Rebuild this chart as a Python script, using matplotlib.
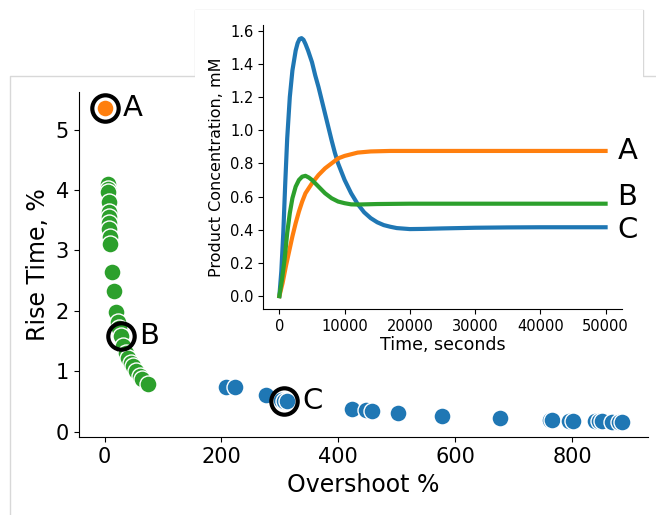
import matplotlib.pyplot as plt
from matplotlib.lines import Line2D

# main scatter: overshoot % vs rise time
a_overshoot = [0]
a_rise = [5.36]

b_overshoot = [5, 6, 6, 7, 7, 8, 8, 8, 9, 10, 13, 16, 20, 23, 25, 28, 32, 36,
               40, 45, 48, 54, 60, 64, 74]
b_rise = [4.10, 4.02, 3.97, 3.80, 3.64, 3.56, 3.45, 3.36, 3.22, 3.10, 2.64,
          2.32, 1.98, 1.82, 1.72, 1.58, 1.42, 1.30, 1.22, 1.13, 1.08, 1.00,
          0.92, 0.87, 0.79]

c_overshoot = [207, 224, 277, 302, 307, 312, 423, 448, 458, 503, 577, 676,
               762, 766, 795, 802, 840, 846, 852, 868, 880, 886]
c_rise = [0.73, 0.73, 0.61, 0.52, 0.51, 0.50, 0.38, 0.35, 0.345, 0.305, 0.26,
          0.22, 0.195, 0.19, 0.18, 0.18, 0.17, 0.17, 0.17, 0.165, 0.165, 0.165]

# highlighted designs
marked_labels = ["A", "B", "C"]
marked_x = [0, 28, 307]
marked_y = [5.36, 1.58, 0.51]

# inset: product concentration over time
time_a = [0, 500, 1000, 1500, 2000, 2500, 3000, 3500, 4000, 5000, 6000, 7000,
          8000, 9000, 10000, 12000, 14000, 17000, 20000, 30000, 40000, 50000]
conc_a = [0, 0.08, 0.18, 0.27, 0.36, 0.44, 0.51, 0.57, 0.62, 0.68, 0.73, 0.77,
          0.80, 0.83, 0.845, 0.865, 0.872, 0.875, 0.875, 0.875, 0.875, 0.875]

time_b = [0, 400, 800, 1200, 1600, 2000, 2500, 3000, 3500, 4000, 4500, 5000,
          6000, 7000, 8000, 9000, 10000, 11000, 12000, 15000, 20000, 30000,
          40000, 50000]
conc_b = [0, 0.10, 0.22, 0.38, 0.50, 0.59, 0.66, 0.70, 0.72, 0.725, 0.715, 0.70,
          0.66, 0.62, 0.59, 0.57, 0.56, 0.553, 0.552, 0.555, 0.557, 0.557,
          0.557, 0.557]

time_c = [0, 300, 600, 900, 1200, 1600, 2000, 2500, 2800, 3100, 3400, 3700,
          4000, 4400, 5000, 5500, 6000, 6500, 7000, 7500, 8000, 8500, 9000,
          10000, 11000, 12000, 13000, 14000, 15000, 16000, 17000, 18000,
          20000, 22000, 25000, 30000, 35000, 40000, 50000]
conc_c = [0, 0.15, 0.38, 0.68, 0.95, 1.20, 1.36, 1.48, 1.525, 1.55, 1.555,
          1.545, 1.52, 1.48, 1.41, 1.33, 1.26, 1.18, 1.10, 1.02, 0.94, 0.865,
          0.80, 0.70, 0.62, 0.555, 0.505, 0.47, 0.445, 0.428, 0.418, 0.41,
          0.404, 0.405, 0.408, 0.412, 0.414, 0.415, 0.415]

blue, orange, green = "#1f77b4", "#ff7f0e", "#2ca02c"

fig = plt.figure(figsize=(6.56, 5.15), dpi=100)

# main plot
ax = fig.add_axes([0.120, 0.151, 0.868, 0.670])
dot = dict(s=150, edgecolor="white", linewidth=1, zorder=3)
ax.scatter(b_overshoot, b_rise, color=green, **dot)
ax.scatter(c_overshoot, c_rise, color=blue, **dot)
ax.scatter(a_overshoot, a_rise, color=orange, **dot)
ax.plot(marked_x, marked_y, "o", ms=19, mfc="none", mec="black", mew=3,
        zorder=4)
for lab, x, y in zip(marked_labels, marked_x, marked_y):
    ax.annotate(lab, (x, y), xytext=(13, 0), textcoords="offset points",
                fontsize=21, va="center", ha="left")
ax.set_xticks([0, 200, 400, 600, 800])
ax.set_yticks([0, 1, 2, 3, 4, 5])
ax.tick_params(labelsize=15)
ax.set_xlabel("Overshoot %", fontsize=17)
ax.set_ylabel("Rise Time, %", fontsize=17)
for side in ["top", "right"]:
    ax.spines[side].set_visible(False)

# light borders of the two pasted panels
gray = "#d8d8d8"
px = [10, 10, 195, 195, 643, 643, 656]
py = [515, 76, 76, 10, 10, 76, 76]
fig.add_artist(Line2D([x / 656 for x in px], [1 - y / 515 for y in py],
                      color=gray, lw=1, transform=fig.transFigure))
bg = plt.Rectangle((195 / 656, 1 - 358 / 515), 448 / 656, 348 / 515,
                   transform=fig.transFigure, facecolor="white",
                   edgecolor="none", zorder=5)
fig.add_artist(bg)

# inset
ins = fig.add_axes([0.401, 0.400, 0.547, 0.551], zorder=6)
ins.patch.set_alpha(0)
ins.plot(time_c, conc_c, color=blue, lw=3)
ins.plot(time_a, conc_a, color=orange, lw=3)
ins.plot(time_b, conc_b, color=green, lw=3)
label_y = [0.875, 0.6, 0.4]
for lab, y in zip(["A", "B", "C"], label_y):
    ins.text(51800, y, lab, fontsize=21, va="center", ha="left",
             clip_on=False)
ins.set_yticks([0, 0.2, 0.4, 0.6, 0.8, 1.0, 1.2, 1.4, 1.6])
ins.set_xticks([0, 10000, 20000, 30000, 40000, 50000])
ins.tick_params(labelsize=10.5)
ins.set_xlabel("Time, seconds", fontsize=12.5, labelpad=2)
ins.set_ylabel("Product Concentration, mM", fontsize=11.5)
for side in ["top", "right"]:
    ins.spines[side].set_visible(False)

fig.savefig("out.png", dpi=100)
